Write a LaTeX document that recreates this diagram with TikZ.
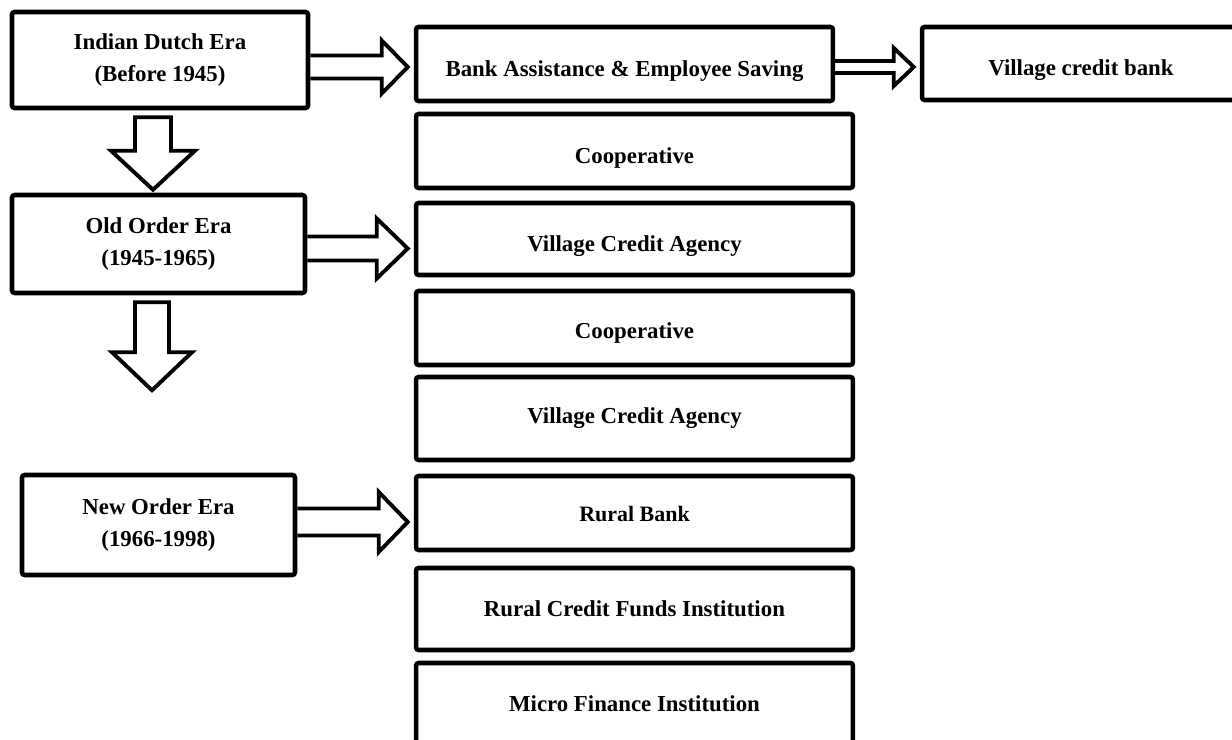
\documentclass[tikz,border=0pt]{standalone}
\usepackage{fontspec}
\setmainfont{Liberation Serif}
\usepackage{tikz}
\usetikzlibrary{calc}
\tikzset{
  erabox/.style={draw, line width=2.6pt, rounded corners=1.5pt, align=center, inner sep=0pt,
    font=\bfseries\fontsize{13pt}{18pt}\selectfont},
  colbox/.style={erabox, minimum width=8.74cm, minimum height=1.48cm},
  low/.style={text height=#1, text depth=3pt},
  hollow/.style={draw, line width=2.2pt, line join=miter},
}
\newcommand{\fatright}[6]{%
  \coordinate (tip) at ($(#2.west |- #1.east)+(-6,#3)$);
  \draw[hollow] ($(#1.east)+(0,#3-#4)$) -- ($(tip)+(-#6,-#4)$) -- ($(tip)+(-#6,-#5)$) -- (tip)
    -- ($(tip)+(-#6,#5)$) -- ($(tip)+(-#6,#4)$) -- ($(#1.east)+(0,#3+#4)$);
}
\newcommand{\fatdown}[5]{%
  \draw[hollow] ($(#1.south -| #2)+(-#3,7)$) -- ($(#2)+(-#3,-#5)$) -- ($(#2)+(-#4,-#5)$) -- (#2)
    -- ($(#2)+(#4,-#5)$) -- ($(#2)+(#3,-#5)$) -- ($(#1.south -| #2)+(#3,7)$) -- cycle;
}

\begin{document}
\begin{tikzpicture}[x=0.02cm, y=-0.02cm]
\useasboundingbox (0,0) rectangle (1232,740);
\clip (0,0) rectangle (1232,740);

\node[erabox, minimum width=5.92cm, minimum height=1.92cm] (ind) at (160,60) {Indian Dutch Era\\(Before 1945)};
\node[erabox, minimum width=5.86cm, minimum height=1.96cm] (old) at (158.5,244) {Old Order Era\\(1945-1965)};
\node[erabox, minimum width=5.46cm, minimum height=2cm] (new) at (158.5,525) {New Order Era\\(1966-1998)};

\node[erabox, low=17pt, minimum width=8.34cm, minimum height=1.48cm] (bank) at (624.5,64) {Bank Assistance \& Employee Saving};
\node[erabox, low=17pt, minimum width=6.36cm, minimum height=1.46cm] (vcb) at (1081,63.5) {Village credit bank};

\node[colbox, low=17pt] (coopa) at (634.5,151) {Cooperative};
\node[colbox, low=17pt, minimum height=1.44cm] (vcaa) at (634.5,239) {Village Credit Agency};
\node[colbox, low=15pt] (coopb) at (634.5,328) {Cooperative};
\node[colbox, minimum height=1.66cm] (vcab) at (634.5,418.5) {Village Credit Agency};
\node[colbox, low=13pt, font=\bfseries\fontsize{12.5pt}{16pt}\selectfont] (rb) at (634.5,513) {Rural Bank};
\node[colbox, minimum height=1.64cm] (rcf) at (634.5,609) {Rural Credit Funds Institution};
\node[colbox, minimum height=1.64cm] (mfi) at (634.5,704) {Micro Finance Institution};

\coordinate (downa) at ($(old.north)+(-5.5,-3)$);
\coordinate (downb) at ($(old.south)+(-6.5,95)$);

\fatright{ind}{bank}{7}{11.5}{26.5}{26}
\fatright{bank}{vcb}{3}{6}{19}{20}
\fatright{old}{vcaa}{4.5}{12}{30}{31}
\fatright{new}{rb}{-3}{13.5}{30}{29}
\fatdown{ind}{downa}{18}{42}{39}
\fatdown{old}{downb}{17}{40}{38}
\end{tikzpicture}
\end{document}
